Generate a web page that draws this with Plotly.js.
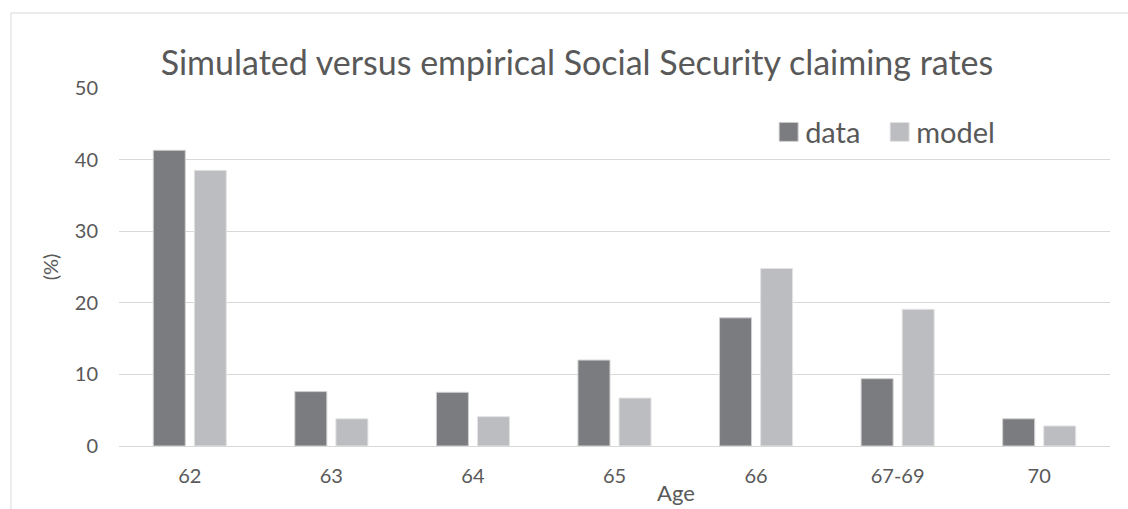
<!DOCTYPE html>
<html>
<head>
<meta charset="utf-8">
<script src="https://cdn.plot.ly/plotly-3.0.1.min.js"></script>
<style>html,body{margin:0;padding:0;background:#fff;}#chart{width:1128px;height:509px;}</style>
</head>
<body>
<div id="chart"></div>
<script>
const categories = ['62', '63', '64', '65', '66', '67-69', '70'];
const dataValues = [41.3, 7.6, 7.5, 12.0, 17.9, 9.4, 3.8];
const modelValues = [38.5, 3.8, 4.1, 6.7, 24.8, 19.1, 2.8];
const yTicks = [0, 10, 20, 30, 40, 50];

const FONT = 'Lato, Calibri, "Open Sans", sans-serif';
const TXT = '#595959';

const traces = [
  {
    type: 'bar', name: 'data', x: categories, y: dataValues,
    marker: {color: '#7b7c80', line: {color: '#d0d0d0', width: 1}},
    hoverinfo: 'x+y+name'
  },
  {
    type: 'bar', name: 'model', x: categories, y: modelValues,
    marker: {color: '#bcbdc0', line: {color: '#e4e4e4', width: 1}},
    hoverinfo: 'x+y+name'
  }
];

const layout = {
  width: 1128, height: 509,
  margin: {l: 119, r: 18, t: 88, b: 63},
  paper_bgcolor: '#ffffff', plot_bgcolor: '#ffffff',
  font: {family: FONT, color: TXT, size: 20},
  title: {
    text: 'Simulated versus empirical Social Security claiming rates',
    font: {family: FONT, size: 34, color: TXT},
    xref: 'container', yref: 'container',
    x: 0.5115, xanchor: 'center', y: 0.876, yanchor: 'middle'
  },
  barmode: 'group', bargap: 0.42, bargroupgap: 0.22,
  xaxis: {
    type: 'category', categoryorder: 'array', categoryarray: categories,
    showgrid: false, zeroline: false, showline: false, ticks: '',
    ticklabelstandoff: 16,
    tickfont: {family: FONT, size: 20, color: TXT}
  },
  yaxis: {
    range: [0, 50], tickvals: yTicks, ticktext: yTicks.map(String),
    showgrid: true, gridcolor: '#d9d9d9', gridwidth: 1,
    zeroline: true, zerolinecolor: '#d9d9d9', zerolinewidth: 1,
    showline: false, ticks: '', ticklabelstandoff: 20,
    tickfont: {family: FONT, size: 20, color: TXT},
    title: {text: '(%)', standoff: 10, font: {family: FONT, size: 20, color: TXT}},
    automargin: false
  },
  legend: {
    orientation: 'h', x: 0.652, xanchor: 'left', y: 0.877, yanchor: 'middle',
    bgcolor: 'rgba(0,0,0,0)', font: {family: FONT, size: 29, color: TXT},
    traceorder: 'normal', entrywidth: 66, entrywidthmode: 'pixels', itemwidth: 30
  },
  annotations: [
    {text: 'Age', xref: 'paper', yref: 'paper', x: 0.562, y: -0.131,
     xanchor: 'center', yanchor: 'middle', showarrow: false,
     font: {family: FONT, size: 22, color: TXT}}
  ],
  shapes: [
    {type: 'rect', xref: 'paper', yref: 'paper', x0: -0.109, x1: 1.0202, y0: -0.184, y1: 1.2095,
     line: {color: '#d9d9d9', width: 1}, fillcolor: 'rgba(0,0,0,0)', layer: 'below'}
  ]
};

Plotly.newPlot('chart', traces, layout, {displayModeBar: false, staticPlot: true}).then(function () {
  document.querySelectorAll('#chart .legend .legendpoints path').forEach(function (p) {
    p.setAttribute('d', 'M13,9.5H-6V-9.5H13Z');
  });
  document.querySelectorAll('#chart .legend [clip-path]').forEach(function (el) {
    el.removeAttribute('clip-path');
  });
});
</script>
</body>
</html>
